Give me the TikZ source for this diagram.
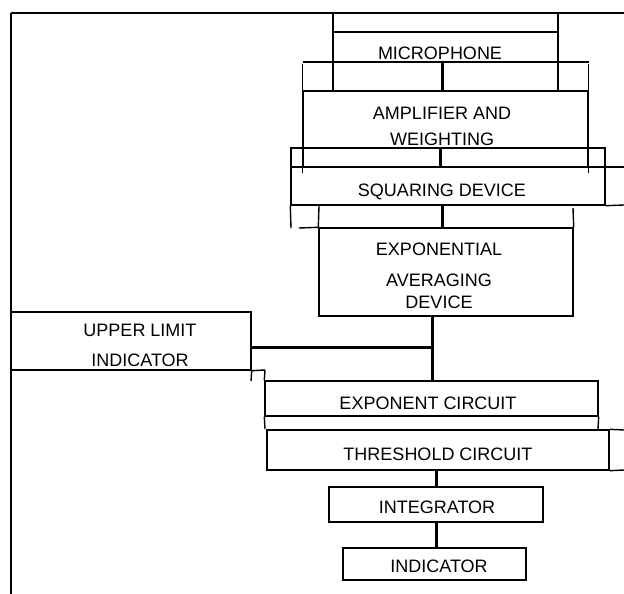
\documentclass[tikz,border=0pt]{standalone}
\usepackage{fontspec}
\setmainfont{Liberation Sans}
\usepackage{tikz}
\begin{document}
\begin{tikzpicture}[x=1pt,y=-1pt,line width=1.4pt,
  box/.style={draw,rectangle,inner sep=0pt},
  lbl/.style={inner sep=0pt,align=center,font=\fontsize{18}{26}\selectfont},
  wire/.style={line width=3pt}]
\useasboundingbox (0,0) rectangle (624,594);
\draw[line width=1.7pt] (624,13)--(11,13);
\draw[line width=2.3pt] (11,13)--(11,594);
\node[box,minimum width=225,minimum height=78] (mic) at (445.5,52) {};
\node[box,minimum width=285,minimum height=76] (amp) at (445.5,129) {};
\node[box,minimum width=314,minimum height=57] (sq) at (448,176.5) {};
\node[box,minimum width=254,minimum height=88] (avg) at (446,272) {};
\node[box,minimum width=240,minimum height=58] (upper) at (131,341) {};
\node[box,minimum width=333,minimum height=35] (expc) at (431.5,398.5) {};
\node[box,minimum width=342,minimum height=40] (thr) at (438,450) {};
\node[box,minimum width=214,minimum height=35] (integ) at (436,504.5) {};
\node[box,minimum width=183,minimum height=32] (ind) at (434.5,564) {};
\node[lbl] (micl) at (440,53) {MICROPHONE};
\node[lbl] (ampl) at (442,126) {AMPLIFIER AND\\WEIGHTING};
\node[lbl] (sql) at (442,192) {SQUARING DEVICE};
\node[lbl,font=\fontsize{18}{22}\selectfont] (avgl) at (439,275.5) {EXPONENTIAL\\[9pt]AVERAGING\\DEVICE};
\node[lbl,font=\fontsize{18}{30}\selectfont] (upperl) at (140,345) {UPPER LIMIT\\INDICATOR};
\node[lbl] (expcl) at (428,403) {EXPONENT CIRCUIT};
\node[lbl] (thrl) at (438,454) {THRESHOLD CIRCUIT};
\node[lbl] (integl) at (437,507) {INTEGRATOR};
\node[lbl] (indl) at (439,566) {INDICATOR};
\draw (mic.west |- 0,32)--(mic.east |- 0,32);
\draw (303,62)--(589,62);
\draw (amp.north west)--++(0,-26);
\draw (amp.north east)--++(0,-26);
\draw (amp.south west)--++(0,5);
\draw (amp.south east)--++(0,5);
\draw (sq.west |- 0,167)--(624,167);
\draw (sq.south east)--(624,205);
\draw (sq.south west)--(291,228);
\draw (avg.north west)--(319,206);
\draw (avg.north east)--(573,208);
\draw (avg.north west)--(299,228);
\draw (upper.south east)--(251,381);
\draw (upper.south east)--(265,370);
\draw (expc.north west)--(265,370);
\draw (expc.south west)--(265,429);
\draw (expc.south east)--(598,429);
\draw (thr.north east)--(624,430);
\draw (thr.south east)--(624,470);
\coordinate (m1) at (442,62);
\coordinate (a1) at (440,167);
\coordinate (s1) at (442,0);
\coordinate (j) at (432,347);
\draw[wire] (m1)--(m1 |- amp.north);
\draw[wire] (sq.north -| a1)--(a1);
\draw[wire] (sq.south -| s1)--(avg.north -| s1);
\draw[wire] (avg.south -| j)--(expc.north -| j);
\draw[wire] (upper.east |- j)--(j);
\draw[wire] (thr.south -| integ.north)--(integ.north);
\draw[wire] (integ.south)--(ind.north -| integ.south);
\end{tikzpicture}
\end{document}
